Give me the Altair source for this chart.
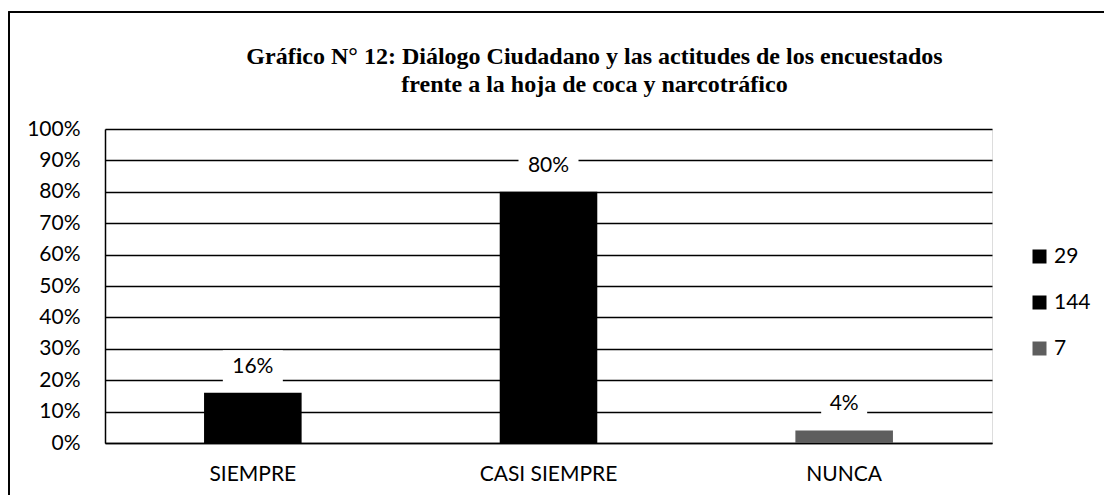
import altair as alt
import pandas as pd

categories = ["SIEMPRE", "CASI SIEMPRE", "NUNCA"]
counts = ["29", "144", "7"]
percentages = [0.16, 0.80, 0.04]
labels = ["16%", "80%", "4%"]
y_ticks = [0, 0.1, 0.2, 0.3, 0.4, 0.5, 0.6, 0.7, 0.8, 0.9, 1.0]
colors = ["#000000", "#000000", "#5e5e5e"]

df = pd.DataFrame({"cat": categories, "serie": counts, "pct": percentages, "label": labels})

W, H = 887, 314
FONT = "Lato"

x = alt.X("cat:N", sort=categories, title=None,
          scale=alt.Scale(paddingInner=0.67, paddingOuter=0.335),
          axis=alt.Axis(labelAngle=0, labelFont=FONT, labelFontSize=21, labelColor="black",
                        labelPadding=20, ticks=False, domainColor="black", domainWidth=1.5))
y = alt.Y("pct:Q", title=None,
          scale=alt.Scale(domain=[0, 1], nice=False),
          axis=alt.Axis(values=y_ticks, format=".0%", labelFont=FONT, labelFontSize=21,
                        labelColor="black", labelPadding=25, ticks=False, labelOverlap=False,
                        gridColor="black", gridWidth=1.5, gridOpacity=1,
                        domainColor="black", domainWidth=1.5))

bars = alt.Chart(df).mark_bar().encode(
    x=x, y=y,
    color=alt.Color("serie:N", sort=counts,
                    scale=alt.Scale(domain=counts, range=colors),
                    legend=alt.Legend(title=None, orient="none", legendX=924, legendY=117,
                                      symbolType="square", symbolSize=196, symbolStrokeWidth=0,
                                      labelFont=FONT, labelFontSize=21, labelColor="black",
                                      labelOffset=4, rowPadding=24)),
)

boxes = alt.Chart(df).transform_calculate(
    bs="pow(14 * length(datum.label) + 18, 2)"
).mark_point(shape="M-1,-0.55H1V0.55H-1Z", filled=True, color="white", opacity=1, yOffset=-26).encode(
    x=x, y=y,
    size=alt.Size("bs:Q", scale=None, legend=None),
)

text = alt.Chart(df).mark_text(font=FONT, fontSize=21, color="black", dy=-26, baseline="middle").encode(
    x=x, y=y,
    text="label:N",
)

frame = alt.Chart(df).mark_rect(fill=None, stroke="black", strokeWidth=1.5).encode(
    x=alt.value(-96), x2=alt.value(W + 300), y=alt.value(-117), y2=alt.value(H + 100)
)

chart = alt.layer(frame, bars, boxes, text).properties(
    width=W, height=H,
    autosize=alt.AutoSizeParams(type="none"),
    padding={"left": 97, "top": 121, "right": 112, "bottom": 52},
    title=alt.TitleParams(
        ["Gráfico N° 12: Diálogo Ciudadano y las actitudes de los encuestados",
         "frente a la hoja de coca y narcotráfico"],
        font="Liberation Serif", fontSize=24, fontWeight="bold", color="black",
        anchor="middle", dx=46, offset=-86, lineHeight=28,
    ),
).configure_view(stroke=None).configure(background="white")

chart.save("out.html", embed_options={"renderer": "svg", "actions": False})
